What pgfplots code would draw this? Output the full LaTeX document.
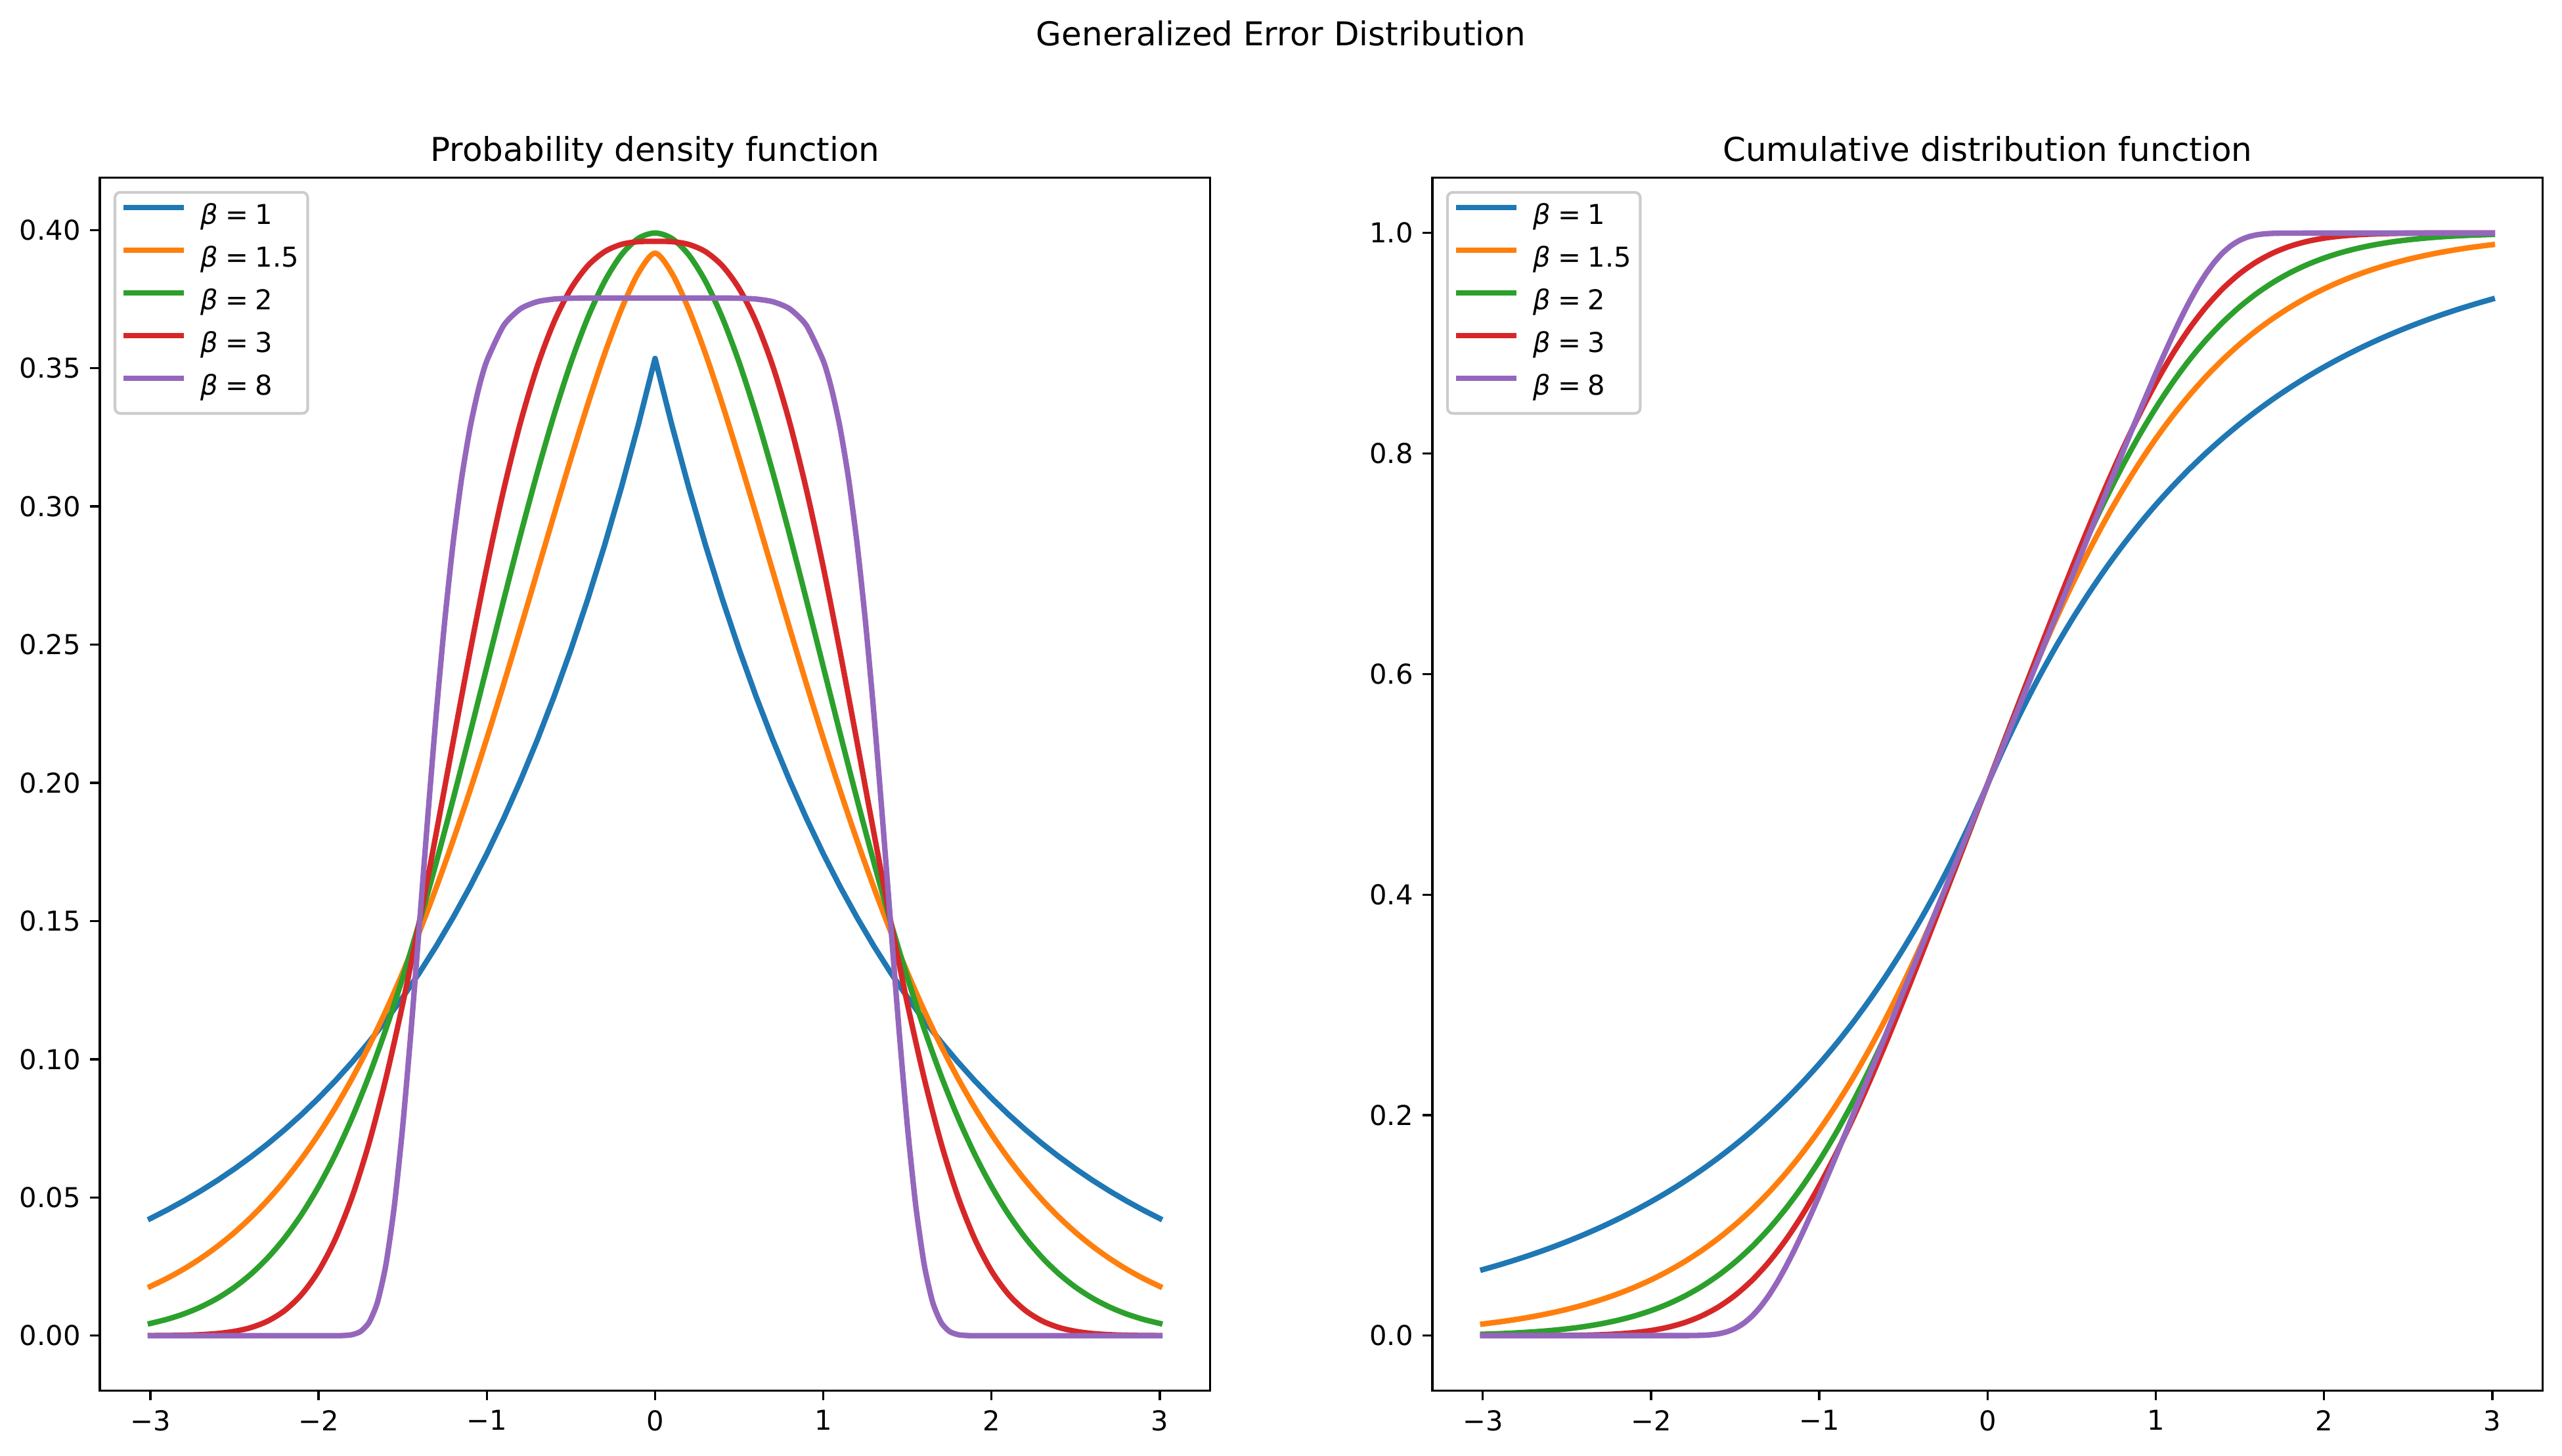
\documentclass[border=0pt]{standalone}
\usepackage{fontspec}
\setmainfont{DejaVu Sans}
\usepackage{pgfplots}
\usepackage{pgfplotstable}
\pgfplotsset{compat=1.18}
\definecolor{c0}{HTML}{1F77B4}
\definecolor{c1}{HTML}{FF7F0E}
\definecolor{c2}{HTML}{2CA02C}
\definecolor{c3}{HTML}{D62728}
\definecolor{c4}{HTML}{9467BD}
\definecolor{legframe}{RGB}{204,204,204}
\newcommand{\lb}[1]{\textit{β}\hspace{2.6pt}=\hspace{2.6pt}#1}

\pgfplotstableread{
x b1 b15 b2 b3
-3.0 0.042382 0.017827 0.004432 0.000028
-2.9 0.045487 0.020778 0.005953 0.000071
-2.8 0.048820 0.024154 0.007915 0.000169
-2.7 0.052397 0.028004 0.010421 0.000376
-2.6 0.056236 0.032380 0.013583 0.000792
-2.5 0.060357 0.037337 0.017528 0.001579
-2.4 0.064779 0.042930 0.022395 0.002985
-2.3 0.069525 0.049219 0.028327 0.005363
-2.2 0.074619 0.056266 0.035475 0.009176
-2.1 0.080087 0.064127 0.043984 0.014984
-2.0 0.085955 0.072862 0.053991 0.023401
-1.9 0.092253 0.082523 0.065616 0.035030
-1.8 0.099012 0.093168 0.078950 0.050365
-1.7 0.106267 0.104835 0.094049 0.069701
-1.6 0.114053 0.117561 0.110921 0.093044
-1.5 0.122410 0.131366 0.129518 0.120059
-1.4 0.131379 0.146260 0.149727 0.150066
-1.3 0.141005 0.162230 0.171369 0.182084
-1.2 0.151336 0.179240 0.194186 0.214924
-1.1 0.162425 0.197228 0.217852 0.247311
-1.0 0.174326 0.216102 0.241971 0.278014
-0.9 0.187099 0.235726 0.266085 0.305969
-0.8 0.200808 0.255926 0.289692 0.330368
-0.7 0.215521 0.276473 0.312254 0.350708
-0.6 0.231312 0.297081 0.333225 0.366815
-0.5 0.248261 0.317386 0.352065 0.378808
-0.4 0.266451 0.336948 0.368270 0.387067
-0.3 0.285974 0.355190 0.381388 0.392163
-0.2 0.306927 0.371359 0.391043 0.394807
-0.1 0.329416 0.384348 0.396953 0.395785
0.0 0.353553 0.391643 0.398942 0.395925
0.1 0.329416 0.384348 0.396953 0.395785
0.2 0.306927 0.371359 0.391043 0.394807
0.3 0.285974 0.355190 0.381388 0.392163
0.4 0.266451 0.336948 0.368270 0.387067
0.5 0.248261 0.317386 0.352065 0.378808
0.6 0.231312 0.297081 0.333225 0.366815
0.7 0.215521 0.276473 0.312254 0.350708
0.8 0.200808 0.255926 0.289692 0.330368
0.9 0.187099 0.235726 0.266085 0.305969
1.0 0.174326 0.216102 0.241971 0.278014
1.1 0.162425 0.197228 0.217852 0.247311
1.2 0.151336 0.179240 0.194186 0.214924
1.3 0.141005 0.162230 0.171369 0.182084
1.4 0.131379 0.146260 0.149727 0.150066
1.5 0.122410 0.131366 0.129518 0.120059
1.6 0.114053 0.117561 0.110921 0.093044
1.7 0.106267 0.104835 0.094049 0.069701
1.8 0.099012 0.093168 0.078950 0.050365
1.9 0.092253 0.082523 0.065616 0.035030
2.0 0.085955 0.072862 0.053991 0.023401
2.1 0.080087 0.064127 0.043984 0.014984
2.2 0.074619 0.056266 0.035475 0.009176
2.3 0.069525 0.049219 0.028327 0.005363
2.4 0.064779 0.042930 0.022395 0.002985
2.5 0.060357 0.037337 0.017528 0.001579
2.6 0.056236 0.032380 0.013583 0.000792
2.7 0.052397 0.028004 0.010421 0.000376
2.8 0.048820 0.024154 0.007915 0.000169
2.9 0.045487 0.020778 0.005953 0.000071
3.0 0.042382 0.017827 0.004432 0.000028
}\pdftab

\pgfplotstableread{
x b1 b15 b2 b3
-3.0 0.059936 0.010626 0.001350 0.000003
-2.9 0.064329 0.012556 0.001866 0.000008
-2.8 0.069042 0.014803 0.002555 0.000020
-2.7 0.074101 0.017411 0.003467 0.000047
-2.6 0.079530 0.020430 0.004661 0.000105
-2.5 0.085357 0.023916 0.006210 0.000224
-2.4 0.091612 0.027929 0.008198 0.000452
-2.3 0.098324 0.032536 0.010724 0.000869
-2.2 0.105528 0.037810 0.013903 0.001596
-2.1 0.113260 0.043830 0.017864 0.002804
-2.0 0.121558 0.050679 0.022750 0.004723
-1.9 0.130465 0.058448 0.028717 0.007645
-1.8 0.140025 0.067233 0.035930 0.011915
-1.7 0.150284 0.077133 0.044565 0.017918
-1.6 0.161296 0.088253 0.054799 0.026055
-1.5 0.173114 0.100699 0.066807 0.036710
-1.4 0.185798 0.114580 0.080757 0.050216
-1.3 0.199411 0.130005 0.096800 0.066824
-1.2 0.214022 0.147079 0.115070 0.086674
-1.1 0.229704 0.165902 0.135666 0.109786
-1.0 0.246534 0.186569 0.158655 0.136052
-0.9 0.264598 0.209160 0.184060 0.165251
-0.8 0.283986 0.233743 0.211855 0.197068
-0.7 0.304793 0.260363 0.241964 0.231122
-0.6 0.327126 0.289041 0.274253 0.266998
-0.5 0.351095 0.319764 0.308538 0.304279
-0.4 0.376819 0.352481 0.344578 0.342573
-0.3 0.404429 0.387088 0.382089 0.381535
-0.2 0.434062 0.423415 0.420740 0.420884
-0.1 0.465866 0.461200 0.460172 0.460414
0.0 0.500000 0.500000 0.500000 0.500000
0.1 0.534134 0.538800 0.539828 0.539586
0.2 0.565938 0.576585 0.579260 0.579116
0.3 0.595571 0.612912 0.617911 0.618465
0.4 0.623181 0.647519 0.655422 0.657427
0.5 0.648905 0.680236 0.691462 0.695721
0.6 0.672874 0.710959 0.725747 0.733002
0.7 0.695207 0.739637 0.758036 0.768878
0.8 0.716014 0.766257 0.788145 0.802932
0.9 0.735402 0.790840 0.815940 0.834749
1.0 0.753466 0.813431 0.841345 0.863948
1.1 0.770296 0.834098 0.864334 0.890214
1.2 0.785978 0.852921 0.884930 0.913326
1.3 0.800589 0.869995 0.903200 0.933176
1.4 0.814202 0.885420 0.919243 0.949784
1.5 0.826886 0.899301 0.933193 0.963290
1.6 0.838704 0.911747 0.945201 0.973945
1.7 0.849716 0.922867 0.955435 0.982082
1.8 0.859975 0.932767 0.964070 0.988085
1.9 0.869535 0.941552 0.971283 0.992355
2.0 0.878442 0.949321 0.977250 0.995277
2.1 0.886740 0.956170 0.982136 0.997196
2.2 0.894472 0.962190 0.986097 0.998404
2.3 0.901676 0.967464 0.989276 0.999131
2.4 0.908388 0.972071 0.991802 0.999548
2.5 0.914643 0.976084 0.993790 0.999776
2.6 0.920470 0.979570 0.995339 0.999895
2.7 0.925899 0.982589 0.996533 0.999953
2.8 0.930958 0.985197 0.997445 0.999980
2.9 0.935671 0.987444 0.998134 0.999992
3.0 0.940064 0.989374 0.998650 0.999997
}\cdftab

\pgfplotstableread{
x pdf cdf
-3.0 0.000000 0.000100
-2.5 0.000000 0.000100
-2.0 0.000000 0.000100
-1.9 0.000009 0.000100
-1.85 0.000071 0.000112
-1.8 0.000383 0.000123
-1.75 0.001538 0.000171
-1.7 0.004798 0.000329
-1.65 0.012115 0.000752
-1.6 0.025629 0.001696
-1.55 0.046796 0.003507
-1.5 0.075660 0.006568
-1.45 0.110692 0.011227
-1.4 0.149259 0.017726
-1.35 0.188393 0.026167
-1.3 0.225477 0.036514
-1.25 0.258663 0.048618
-1.2 0.286955 0.062258
-1.15 0.310092 0.077184
-1.1 0.328352 0.093145
-1.05 0.342309 0.109912
-1.0 0.352678 0.127287
-0.9 0.365459 0.163194
-0.8 0.371508 0.200042
-0.7 0.374074 0.237321
-0.6 0.375030 0.274776
-0.5 0.375332 0.312294
-0.4 0.375409 0.349831
-0.3 0.375422 0.387373
-0.2 0.375424 0.424915
-0.1 0.375424 0.462458
0.0 0.375424 0.500000
0.1 0.375424 0.537542
0.2 0.375424 0.575085
0.3 0.375422 0.612627
0.4 0.375409 0.650169
0.5 0.375332 0.687706
0.6 0.375030 0.725224
0.7 0.374074 0.762679
0.8 0.371508 0.799958
0.9 0.365459 0.836806
1.0 0.352678 0.872713
1.05 0.342309 0.890088
1.1 0.328352 0.906855
1.15 0.310092 0.922816
1.2 0.286955 0.937742
1.25 0.258663 0.951382
1.3 0.225477 0.963486
1.35 0.188393 0.973833
1.4 0.149259 0.982274
1.45 0.110692 0.988773
1.5 0.075660 0.993432
1.55 0.046796 0.996493
1.6 0.025629 0.998304
1.65 0.012115 0.999248
1.7 0.004798 0.999671
1.75 0.001538 0.999829
1.8 0.000383 0.999877
1.85 0.000071 0.999888
1.9 0.000009 0.999900
2.0 0.000000 0.999900
2.5 0.000000 0.999900
3.0 0.000000 0.999900
}\betaeight

\pgfplotsset{
  gedbase/.style={
    scale only axis, width=405.8pt, height=443.3pt,
    xmin=-3.3, xmax=3.3,
    axis line style={line width=0.8pt},
    tick style={line width=0.8pt, black},
    major tick length=3.5pt,
    tick align=outside,
    tick pos=left,
    ticklabel style={font=\fontsize{10}{12}\selectfont},
    xtick={-3,-2,-1,0,1,2,3},
    xticklabels={−3,−2,−1,0,1,2,3},
    every axis title/.style={at={(0.5,1)}, anchor=base, yshift=6pt, font=\fontsize{12}{14}\selectfont},
    legend cell align=left,
    legend image code/.code={\draw[#1,line width=2pt,line cap=rect] (1pt,3.6pt) -- (21pt,3.6pt);},
    legend style={at={(0,1)}, anchor=north west, xshift=5pt, yshift=-4.8pt,
      draw=legframe, line width=1pt, rounded corners=2pt, fill=white,
      inner xsep=3.2pt, inner ysep=4.2pt, row sep=5.6pt,
      font=\fontsize{10}{12}\selectfont,
      nodes={inner sep=0pt, text height=7.5pt, text depth=2.5pt},
      /tikz/every odd column/.style={column sep=6.2pt}},
    every axis plot/.append style={line width=2pt, line join=round, line cap=rect},
  }
}

\begin{document}
\begin{tikzpicture}
\useasboundingbox (-36.5pt,-23.8pt) rectangle (899.8pt,508.3pt);
\begin{axis}[gedbase, at={(0pt,0pt)}, anchor=south west,
  title={Probability density function},
  ymin=-0.019947, ymax=0.418889,
  ytick={0,0.05,0.10,0.15,0.20,0.25,0.30,0.35,0.40},
  yticklabels={0.00,0.05,0.10,0.15,0.20,0.25,0.30,0.35,0.40}]
\addplot[c0] table[x=x,y=b1]{\pdftab};
\addlegendentry{\lb{1}}
\addplot[c1, smooth, tension=0.5] table[x=x,y=b15]{\pdftab};
\addlegendentry{\lb{1.5}}
\addplot[c2, smooth, tension=0.5] table[x=x,y=b2]{\pdftab};
\addlegendentry{\lb{2}}
\addplot[c3, smooth, tension=0.5] table[x=x,y=b3]{\pdftab};
\addlegendentry{\lb{3}}
\addplot[c4, smooth, tension=0.4] table[x=x,y=pdf]{\betaeight};
\addlegendentry{\lb{8}}
\end{axis}
\begin{axis}[gedbase, at={(486.96pt,0pt)}, anchor=south west,
  title={Cumulative distribution function},
  ymin=-0.05, ymax=1.05,
  ytick={0,0.2,0.4,0.6,0.8,1.0},
  yticklabels={0.0,0.2,0.4,0.6,0.8,1.0}]
\addplot[c0, smooth, tension=0.5] table[x=x,y=b1]{\cdftab};
\addlegendentry{\lb{1}}
\addplot[c1, smooth, tension=0.5] table[x=x,y=b15]{\cdftab};
\addlegendentry{\lb{1.5}}
\addplot[c2, smooth, tension=0.5] table[x=x,y=b2]{\cdftab};
\addlegendentry{\lb{2}}
\addplot[c3, smooth, tension=0.5] table[x=x,y=b3]{\cdftab};
\addlegendentry{\lb{3}}
\addplot[c4, smooth, tension=0.4] table[x=x,y=cdf]{\betaeight};
\addlegendentry{\lb{8}}
\end{axis}
\node[anchor=base, font=\fontsize{12}{14}\selectfont] at (431.6pt,491.5pt) {Generalized Error Distribution};
\end{tikzpicture}
\end{document}
